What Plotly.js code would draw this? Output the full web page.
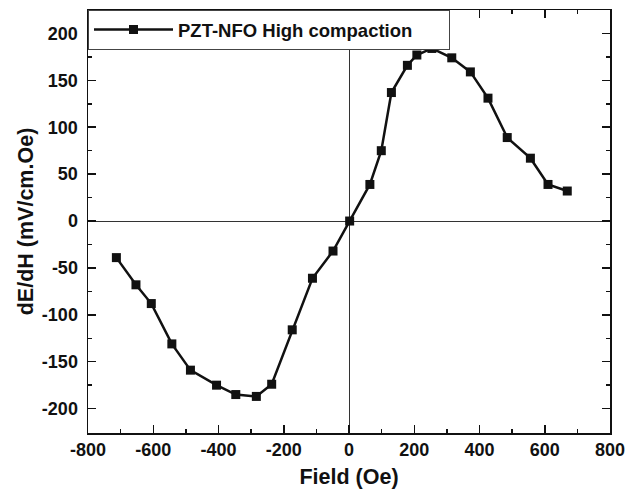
<!DOCTYPE html>
<html>
<head>
<meta charset="utf-8">
<script src="https://cdn.plot.ly/plotly-3.0.1.min.js"></script>
<style>html,body{margin:0;padding:0;background:#fff;}#chart{width:627px;height:490px;}</style>
</head>
<body>
<div id="chart"></div>
<script>
const seriesName = "PZT-NFO High compaction";
const fieldOe = [-713, -653, -606, -543, -486, -406, -347, -284, -237, -174, -112, -49, 2, 64, 99, 130, 179, 208, 254, 315, 372, 426, 485, 556, 610, 669];
const dEdH = [-39, -68, -88, -131, -159, -175, -185, -187, -174, -116, -61, -32, 0, 39, 75, 137, 166, 177, 184, 174, 159, 131, 89, 67, 39, 32];
const xTickVals = [-800, -600, -400, -200, 0, 200, 400, 600, 800];
const xTickText = ["-800", "-600", "-400", "-200", "0", "200", "400", "600", "800"];
const yTickVals = [-200, -150, -100, -50, 0, 50, 100, 150, 200];
const yTickText = ["-200", "-150", "-100", "-50", "0", "50", "100", "150", "200"];
const xTitle = "Field (Oe)";
const yTitle = "dE/dH (mV/cm.Oe)";

const fontFam = "Liberation Sans, Arial, Helvetica, sans-serif";
const axisCommon = {
  showline: true, linecolor: '#111', linewidth: 1.5, mirror: 'ticks',
  ticks: 'inside', ticklen: 8, tickwidth: 1.5, tickcolor: '#111',
  showgrid: false, zeroline: true, zerolinecolor: '#333', zerolinewidth: 1,
  tickfont: {family: fontFam, size: 18, color: '#111', weight: 700},
  tickmode: 'array'
};
const minorCommon = {ticks: 'inside', ticklen: 4, tickwidth: 1.5, tickcolor: '#111', showgrid: false};

const trace = {
  x: fieldOe, y: dEdH, type: 'scatter', mode: 'lines+markers', name: seriesName,
  line: {color: '#111', width: 2.5},
  marker: {symbol: 'square', size: 9, color: '#111'}
};

const layout = {
  width: 627, height: 490,
  margin: {l: 88, r: 17, t: 10, b: 57},
  paper_bgcolor: '#fff', plot_bgcolor: '#fff',
  showlegend: true,
  legend: {x: 0, y: 1, xanchor: 'left', yanchor: 'top', orientation: 'h', entrywidth: 266,
    itemwidth: 79, tracegroupgap: 0,
    bordercolor: '#444', borderwidth: 1, bgcolor: '#fff',
    font: {family: fontFam, size: 18.5, color: '#111', weight: 700}},
  xaxis: Object.assign({}, axisCommon, {
    range: [-800, 800], tickvals: xTickVals, ticktext: xTickText,
    minor: Object.assign({}, minorCommon, {dtick: 100, tick0: 0}),
    title: {text: xTitle, font: {family: fontFam, size: 21.5, color: '#111', weight: 700}, standoff: 10}
  }),
  yaxis: Object.assign({}, axisCommon, {
    range: [-226, 225], tickvals: yTickVals, ticktext: yTickText,
    minor: Object.assign({}, minorCommon, {dtick: 25, tick0: 0}),
    ticklabelstandoff: 5,
    title: {text: yTitle, font: {family: fontFam, size: 21.5, color: '#111', weight: 700}, standoff: 2}
  })
};

Plotly.newPlot('chart', [trace], layout, {displayModeBar: false, staticPlot: true});
</script>
</body>
</html>
